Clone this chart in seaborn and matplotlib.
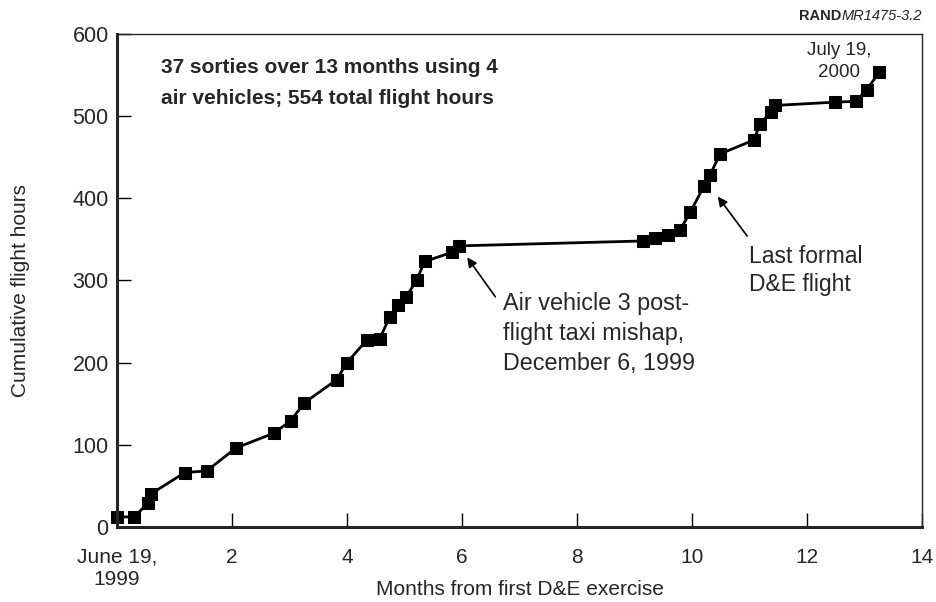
import pandas as pd
import seaborn as sns
import matplotlib.pyplot as plt

# cumulative flight hours per sortie (months since first D&E exercise)
months = [0.0, 0.30, 0.54, 0.59, 1.18, 1.56, 2.07, 2.73, 3.02, 3.26,
          3.82, 4.00, 4.34, 4.57, 4.74, 4.88, 5.03, 5.21, 5.35, 5.82, 5.95,
          9.15, 9.36, 9.58, 9.79, 9.97, 10.21, 10.31, 10.49, 11.08, 11.18,
          11.37, 11.44, 12.48, 12.85, 13.04, 13.26]
hours = [12, 12, 29, 40, 66, 68, 96, 114, 129, 151,
         179, 200, 227, 229, 255, 270, 280, 300, 323, 334, 342,
         348, 351, 355, 361, 383, 415, 428, 454, 471, 490,
         505, 513, 517, 518, 532, 554]

x_ticks = [0, 2, 4, 6, 8, 10, 12, 14]
x_labels = ["June 19,\n1999", "2", "4", "6", "8", "10", "12", "14"]
y_ticks = [0, 100, 200, 300, 400, 500, 600]

df = pd.DataFrame({"months": months, "hours": hours})

sns.set_style("ticks")
plt.rcParams['font.family'] = ['Liberation Sans', 'DejaVu Sans']

fig = plt.figure(figsize=(9.36, 6.02), dpi=100)
ax = fig.add_axes([0.125, 0.125, 0.86, 0.8185])

sns.lineplot(data=df, x="months", y="hours", color="black", linewidth=2,
             marker="s", markersize=9, markeredgecolor="black", ax=ax,
             clip_on=False)

ax.set_xlim(0, 14)
ax.set_ylim(0, 600)
ax.set_xticks(x_ticks)
ax.set_xticklabels(x_labels, fontsize=15, linespacing=1.2)
ax.set_yticks(y_ticks)
ax.set_yticklabels([str(v) for v in y_ticks], fontsize=15.5)
ax.tick_params(direction="in", length=10, width=1, color="black")
ax.tick_params(axis="x", pad=15)
ax.tick_params(axis="y", pad=6)
for side in ["left", "bottom"]:
    ax.spines[side].set_linewidth(2.2)
for side in ["right", "top"]:
    ax.spines[side].set_linewidth(1)
    ax.spines[side].set_visible(True)
ax.set_xlabel("Months from first D&E exercise", fontsize=15)
ax.set_ylabel("Cumulative flight hours", fontsize=15)
ax.xaxis.set_label_coords(0.5, -0.108)
ax.yaxis.set_label_coords(-0.108, 0.48)

ax.text(0.77, 571, "37 sorties over 13 months using 4\nair vehicles; 554 total flight hours",
        fontsize=15, fontweight="bold", va="top", ha="left", linespacing=1.82)
ax.text(12.56, 543, "July 19,\n2000", fontsize=13.5, ha="center", va="bottom",
        linespacing=1.4)

# mishap note
ax.annotate("", xy=(6.09, 328), xytext=(6.58, 280),
            arrowprops=dict(arrowstyle="-|>", color="black", lw=1.2,
                            shrinkA=0, shrinkB=0, mutation_scale=14))
ax.text(6.72, 286, "Air vehicle 3 post-\nflight taxi mishap,\nDecember 6, 1999",
        fontsize=16.8, ha="left", va="top", linespacing=1.4)

# last formal flight note
ax.annotate("", xy=(10.45, 402), xytext=(10.96, 354),
            arrowprops=dict(arrowstyle="-|>", color="black", lw=1.2,
                            shrinkA=0, shrinkB=0, mutation_scale=14))
ax.text(10.99, 343, "Last formal\nD&E flight", fontsize=16.5, ha="left", va="top",
        linespacing=1.3)

mr = fig.text(0.985, 0.985, "MR1475-3.2", fontsize=10.5, style="italic",
              ha="right", va="top")
ax.annotate("RAND", xy=(0, 0.5), xycoords=mr, fontsize=10.5, fontweight="bold",
            ha="right", va="center", annotation_clip=False)

fig.savefig("out.png", dpi=100)
